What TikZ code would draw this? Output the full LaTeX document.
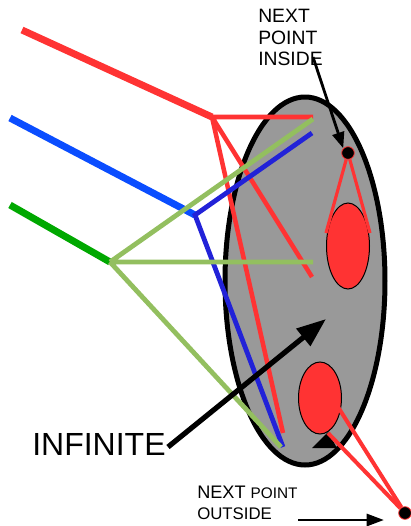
\documentclass[tikz,border=0pt]{standalone}
\usepackage{fontspec}
\setmainfont{Liberation Sans}
\usetikzlibrary{arrows.meta}
\definecolor{rayred}{HTML}{FF3333}
\definecolor{rayblue}{HTML}{0A4DFF}
\definecolor{branchblue}{HTML}{2222D8}
\definecolor{raygreen}{HTML}{00A800}
\definecolor{branchgreen}{HTML}{93BF5F}
\definecolor{lensgray}{HTML}{999999}
\begin{document}
\begin{tikzpicture}[x=0.75pt,y=-0.75pt,
  ray/.style={line width=5.25pt},
  branch/.style={line width=3.6pt},
  thinray/.style={line width=2.4pt,rayred},
  pointdot/.style={circle,fill=black,draw=rayred,line width=0.6pt,minimum size=9.5pt,inner sep=0pt},
  label/.style={inner sep=0pt,anchor=base west}]
  \useasboundingbox (0,0) rectangle (411,526);
  % lens body and the two source blobs
  \filldraw[fill=lensgray,draw=black,line width=3.75pt] (305,281) ellipse [x radius=80,y radius=184];
  \filldraw[fill=rayred,draw=black,line width=0.75pt] (348,246) ellipse [x radius=21.5,y radius=43];
  \filldraw[fill=rayred,draw=black,line width=0.75pt] (320,398) ellipse [x radius=21.5,y radius=36];
  \fill (312,448) -- (328,432) -- (337,448) -- cycle;
  % points and tangent lines
  \node[pointdot] (inDot) at (348,153) {};
  \node[pointdot] (outDot) at (405,513) {};
  \coordinate (tanA) at (326,233);
  \coordinate (tanB) at (370,233);
  \coordinate (tanC) at (338,407);
  \coordinate (tanD) at (328,433);
  \draw[thinray] (inDot) -- (tanA);
  \draw[thinray] (inDot) -- (tanB);
  \draw[thinray,line width=3pt] (outDot) -- (tanC);
  \draw[thinray,line width=3pt] (outDot) -- (tanD);
  % red ray
  \coordinate (rIn) at (22,30);
  \coordinate (rJ) at (212,117);
  \coordinate (rE1) at (313,117);
  \coordinate (rE2) at (312,277);
  \coordinate (rE3) at (283,433);
  \draw[ray,rayred] (rIn) -- (rJ);
  \draw[branch,rayred,line width=3.4pt] (rJ) -- (rE1) (rJ) -- (rE2) (rJ) -- (rE3);
  % blue ray
  \coordinate (bIn) at (10,118);
  \coordinate (bJ) at (195,215);
  \coordinate (bE1) at (312,133);
  \coordinate (bE2) at (283,447);
  \draw[ray,rayblue] (bIn) -- (bJ);
  \draw[branch,branchblue,line join=miter] (bE1) -- (bJ) -- (bE2);
  % green ray
  \coordinate (gIn) at (10,205);
  \coordinate (gJ) at (110,262);
  \coordinate (gE1) at (313,119);
  \coordinate (gE2) at (313,262);
  \coordinate (gE3) at (281,447);
  \draw[ray,raygreen] (gIn) -- (gJ);
  \draw[branch,branchgreen] (gJ) -- (gE1) (gJ) -- (gE2) (gJ) -- (gE3);
  % labels
  \node[label,font=\fontsize{24}{24}\selectfont] (infinite) at (32,455) {INFINITE};
  \coordinate (infFrom) at (168,447);
  \coordinate (infTip) at (326,319);
  \draw[line width=3.9pt,-{Triangle[length=22pt,width=16pt]}] (infFrom) -- (infTip);
  \node[label,font=\fontsize{14.5}{16}\selectfont] (insideA) at (258,22) {NEXT};
  \node[label,font=\fontsize{14.5}{16}\selectfont] (insideB) at (258,44) {POINT};
  \node[label,font=\fontsize{14.5}{16}\selectfont] (insideC) at (258,65) {INSIDE};
  \coordinate (insFrom) at (313,57);
  \draw[line width=2.1pt,-{Triangle[length=12pt,width=9pt]}] (insFrom) -- (inDot.north west);
  \node[label,font=\fontsize{13.6}{16}\selectfont] (outsideA) at (197,498) {NEXT \fontsize{11.5}{14}\selectfont POINT};
  \node[label,font=\fontsize{12.6}{15}\selectfont] (outsideB) at (197,519) {OUTSIDE};
  \coordinate (outFrom) at (298,520);
  \coordinate (outTip) at (384,520);
  \draw[line width=2.2pt,-{Triangle[length=13pt,width=9pt]}] (outFrom) -- (outTip);
\end{tikzpicture}
\end{document}
